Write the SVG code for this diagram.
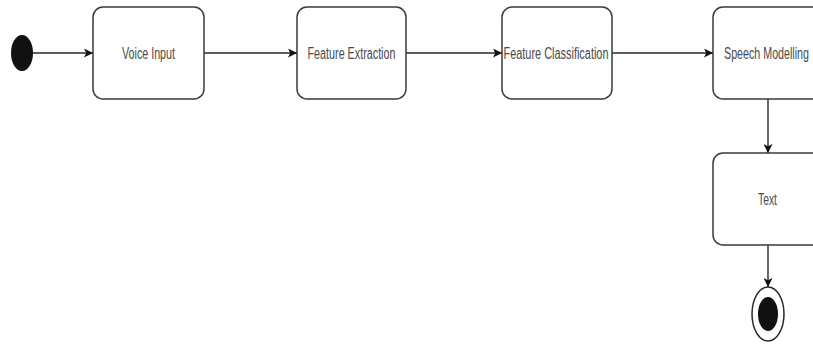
<svg xmlns="http://www.w3.org/2000/svg" width="813" height="345" viewBox="0 0 813 345">
<style>
.box{fill:#fff;stroke:#3a3a3a;stroke-width:1.5}
.lbl{font-family:"Liberation Sans",Arial,sans-serif;font-size:16px;fill:#4a4a4a;text-anchor:middle;dominant-baseline:central}
.edge{stroke:#2a2a2a;stroke-width:1.4;fill:none;marker-end:url(#arr)}
</style>
<defs>
<marker id="arr" viewBox="0 0 10 10" refX="10" refY="5" markerWidth="9" markerHeight="9" markerUnits="userSpaceOnUse" orient="auto">
<path d="M0,0 L10,5 L0,10 L2.5,5 Z" fill="#111"/>
</marker>
</defs>
<rect width="813" height="345" fill="#fff"/>
<g id="connectors">
<line class="edge" x1="33" y1="53" x2="93" y2="53"/>
<line class="edge" x1="204" y1="53" x2="297" y2="53"/>
<line class="edge" x1="406" y1="53" x2="502" y2="53"/>
<line class="edge" x1="612" y1="53" x2="713" y2="53"/>
<line class="edge" x1="768" y1="99" x2="768" y2="153"/>
<line class="edge" x1="768" y1="245" x2="768" y2="287"/>
</g>
<g id="start"><ellipse cx="22" cy="53" rx="11" ry="18" fill="#111"/></g>
<g id="voice-input"><rect class="box" x="93" y="7" width="111" height="92" rx="10"/><text class="lbl" x="148.5" y="53" textLength="53" lengthAdjust="spacingAndGlyphs">Voice Input</text></g>
<g id="feature-extraction"><rect class="box" x="297" y="7" width="109" height="92" rx="10"/><text class="lbl" x="351.5" y="53" textLength="88" lengthAdjust="spacingAndGlyphs">Feature Extraction</text></g>
<g id="feature-classification"><rect class="box" x="502" y="7" width="110" height="92" rx="10"/><text class="lbl" x="556" y="53" textLength="105" lengthAdjust="spacingAndGlyphs">Feature Classification</text></g>
<g id="speech-modelling"><rect class="box" x="713" y="7" width="110" height="92" rx="10"/><text class="lbl" x="766.5" y="53" textLength="85" lengthAdjust="spacingAndGlyphs">Speech Modelling</text></g>
<g id="text-node"><rect class="box" x="713" y="153" width="110" height="92" rx="10"/><text class="lbl" x="767.5" y="199" textLength="19" lengthAdjust="spacingAndGlyphs">Text</text></g>
<g id="end"><ellipse cx="768" cy="314" rx="16" ry="27" fill="#fff" stroke="#2a2a2a" stroke-width="1.5"/><ellipse cx="768" cy="314" rx="10" ry="17" fill="#111"/></g>
</svg>
